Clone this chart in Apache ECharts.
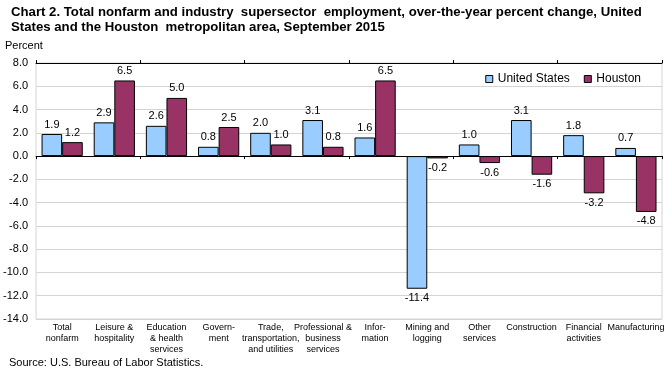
<!DOCTYPE html>
<html>
<head>
<meta charset="utf-8">
<script src="https://cdn.jsdelivr.net/npm/echarts@6/dist/echarts.min.js"></script>
<style>
html,body{margin:0;padding:0;background:#fff;}
#chart{width:672px;height:375px;}
</style>
</head>
<body>
<div id="chart"></div>
<script>
var categories = ['Total\nnonfarm','Leisure &\nhospitality','Education\n& health\nservices','Govern-\nment','Trade,\ntransportation,\nand utilities','Professional &\nbusiness\nservices','Infor-\nmation','Mining and\nlogging','Other\nservices','Construction','Financial\nactivities','Manufacturing'];
var usValues = [1.9, 2.9, 2.6, 0.8, 2.0, 3.1, 1.6, -11.4, 1.0, 3.1, 1.8, 0.7];
var houstonValues = [1.2, 6.5, 5.0, 2.5, 1.0, 0.8, 6.5, -0.2, -0.6, -1.6, -3.2, -4.8];
var seriesNames = ['United States', 'Houston'];

var FONT = "'Liberation Sans', Arial, sans-serif";

function toData(arr) {
  return arr.map(function (v) {
    return { value: v, label: { position: v < 0 ? 'bottom' : 'top' } };
  });
}

var chart = echarts.init(document.getElementById('chart'), null, { renderer: 'canvas' });
var option = {
  animation: false,
  backgroundColor: '#fff',
  textStyle: { fontFamily: FONT },
  title: {
    text: 'Chart 2. Total nonfarm and industry  supersector  employment, over-the-year percent change, United\nStates and the Houston  metropolitan area, September 2015',
    left: 11, top: 5, padding: 0,
    textStyle: { fontFamily: FONT, fontSize: 13.2, fontWeight: 'bold', color: '#000', lineHeight: 15 }
  },
  legend: {
    data: seriesNames,
    right: 26, top: 68,
    itemWidth: 7, itemHeight: 7, itemGap: 14,
    icon: 'rect',
    itemStyle: { borderColor: '#000', borderWidth: 1 },
    textStyle: { fontFamily: FONT, fontSize: 12, color: '#000' }
  },
  graphic: [
    { type: 'text', left: 5, top: 40, style: { text: 'Percent', font: '11px ' + FONT, fill: '#000' } },
    { type: 'text', left: 9, top: 357, style: { text: 'Source: U.S. Bureau of Labor Statistics.', font: '11px ' + FONT, fill: '#000' } }
  ],
  grid: { left: 35, right: 10, top: 63, bottom: 56, show: true, borderColor: '#d4d4d4', borderWidth: 1 },
  xAxis: [
    {
      type: 'category', data: categories, position: 'bottom',
      axisLine: { onZero: true, lineStyle: { color: '#000', width: 1 } },
      axisTick: { show: true, length: 3, lineStyle: { color: '#000' } },
      axisLabel: { show: false }
    },
    {
      type: 'category', data: categories, position: 'top',
      axisLine: { onZero: true, lineStyle: { color: '#000', width: 1 } },
      axisTick: { show: true, length: 3, lineStyle: { color: '#000' } },
      axisLabel: { show: false }
    },
    {
      type: 'category', data: categories, position: 'bottom',
      axisLine: { show: false, onZero: false },
      axisTick: { show: false },
      axisLabel: { show: true, interval: 0, margin: 3, fontFamily: FONT, fontSize: 9, lineHeight: 11, color: '#000' }
    }
  ],
  yAxis: {
    type: 'value', min: -14, max: 8, interval: 2,
    axisLine: { show: false },
    axisTick: { show: false },
    splitLine: { lineStyle: { color: '#d4d4d4', width: 1 } },
    axisLabel: { fontFamily: FONT, fontSize: 11, color: '#000', margin: 8, formatter: function (v) { return v.toFixed(1); } }
  },
  series: [
    {
      name: seriesNames[0], type: 'bar', xAxisIndex: 0, data: toData(usValues),
      barGap: '0%', barCategoryGap: '21%',
      itemStyle: { color: '#99CCFF', borderColor: '#000', borderWidth: 1 },
      label: { show: true, distance: 4, fontFamily: FONT, fontSize: 11, color: '#000', formatter: function (p) { return p.value.toFixed(1); } }
    },
    {
      name: seriesNames[1], type: 'bar', xAxisIndex: 0, data: toData(houstonValues),
      barGap: '0%', barCategoryGap: '21%',
      itemStyle: { color: '#993366', borderColor: '#000', borderWidth: 1 },
      label: { show: true, distance: 4, fontFamily: FONT, fontSize: 11, color: '#000', formatter: function (p) { return p.value.toFixed(1); } }
    }
  ]
};
chart.setOption(option);
</script>
</body>
</html>
